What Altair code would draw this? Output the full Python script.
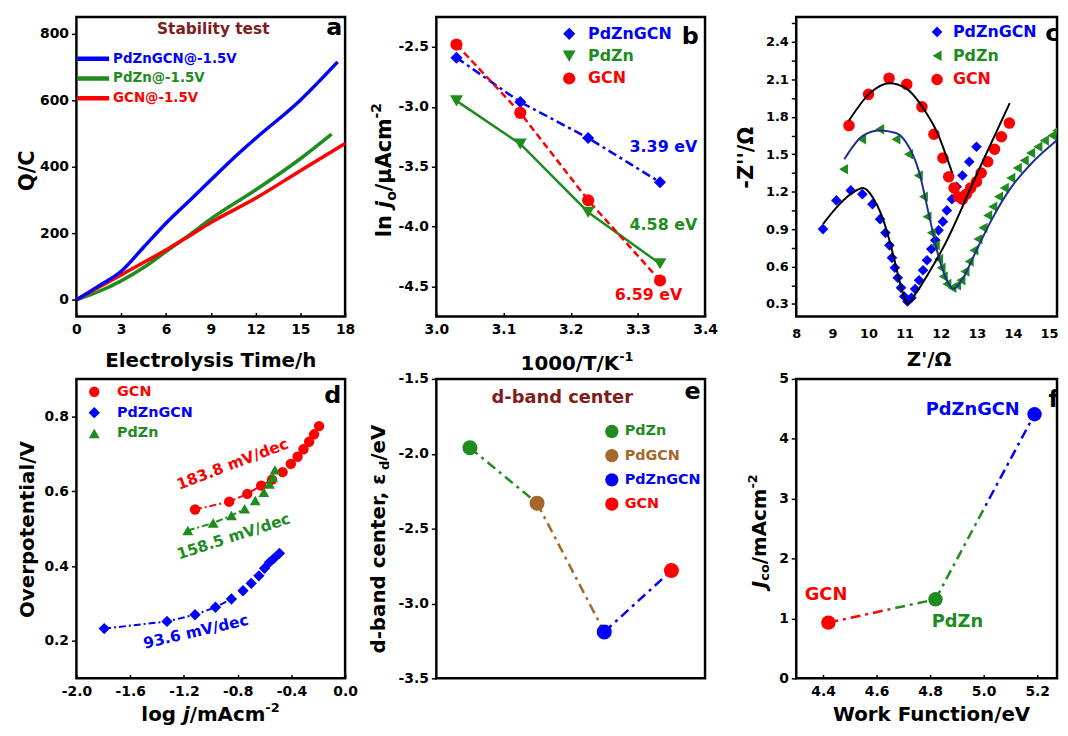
import altair as alt
import pandas as pd

FONT = "DejaVu Sans"
BLUE, GREEN, RED = "#0000ff", "#1e8c1e", "#ff0000"
BROWN, DARKRED, NAVY, BLACK = "#a4682a", "#7f1d1d", "#1f2f8f", "#000000"
DASHDOT = [9, 4, 3, 4]
DASHDOT_S = [7, 3, 2, 3]
DASHDOT_L = [10, 5, 3, 5]
W, H, WR = 271, 302, 263
MINUS = "replace(datum.label, '\u2212', '-')"

# ---------------- data ----------------
# (a) stability test
a_names = ["PdZnGCN@-1.5V", "PdZn@-1.5V", "GCN@-1.5V"]
a_t_pdzngcn = [0, 1.5, 3, 4.5, 6, 7.5, 9, 10.5, 12, 15, 17.5]
a_q_pdzngcn = [0, 42, 86, 158, 230, 295, 360, 425, 485, 600, 715]
a_t_pdzn = [0, 1.5, 3, 4.5, 6, 7.5, 9, 12, 15, 17.1]
a_q_pdzn = [0, 25, 57, 97, 145, 193, 243, 330, 424, 498]
a_t_gcn = [0, 1.5, 3, 4.5, 6, 7.5, 9, 12, 15, 18]
a_q_gcn = [0, 38, 75, 112, 150, 190, 232, 305, 388, 470]

# (b) Arrhenius
b_names = ["PdZnGCN", "PdZn", "GCN"]
b_x = [3.030, 3.125, 3.226, 3.333]
b_pdzngcn = [-2.59, -2.96, -3.26, -3.63]
b_pdzn = [-2.95, -3.31, -3.88, -4.31]
b_gcn = [-2.48, -3.05, -3.78, -4.45]
b_ea = ["3.39 eV", "4.58 eV", "6.59 eV"]

# (c) Nyquist
c_names = ["PdZnGCN", "PdZn", "GCN"]
c_pdzngcn_x = [8.74, 9.11, 9.51, 9.83, 10.11, 10.32, 10.47, 10.58, 10.65, 10.73, 10.81, 10.90, 10.99, 11.08, 11.19,
               11.29, 11.40, 11.51, 11.62, 11.74, 11.85, 11.94, 12.06, 12.17, 12.31, 12.44, 12.60, 12.79, 12.99]
c_pdzngcn_y = [0.90, 1.13, 1.21, 1.18, 1.10, 0.98, 0.87, 0.77, 0.67, 0.59, 0.51, 0.43, 0.36, 0.32, 0.35,
               0.42, 0.49, 0.57, 0.65, 0.74, 0.81, 0.89, 0.96, 1.05, 1.14, 1.24, 1.33, 1.44, 1.56]
c_pdzn_x = [9.31, 9.81, 10.31, 10.76, 11.11, 11.38, 11.52, 11.62, 11.74, 11.85, 11.94, 12.01, 12.07, 12.17, 12.31,
            12.44, 12.56, 12.67, 12.79, 12.92, 13.03, 13.17, 13.30, 13.44, 13.60, 13.76, 13.94, 14.12, 14.31, 14.49,
            14.69, 14.87, 15.08, 15.21]
c_pdzn_y = [1.38, 1.62, 1.70, 1.62, 1.50, 1.33, 1.16, 1.00, 0.87, 0.77, 0.66, 0.59, 0.52, 0.46, 0.43,
            0.45, 0.49, 0.56, 0.64, 0.73, 0.82, 0.91, 1.01, 1.08, 1.16, 1.23, 1.31, 1.39, 1.45, 1.51,
            1.56, 1.61, 1.65, 1.69]
c_gcn_x = [9.46, 10.00, 10.57, 11.06, 11.48, 11.81, 12.06, 12.22, 12.37, 12.49, 12.60, 12.71, 12.83, 12.99, 13.12,
           13.30, 13.49, 13.68, 13.90]
c_gcn_y = [1.73, 1.98, 2.11, 2.06, 1.88, 1.66, 1.47, 1.32, 1.23, 1.16, 1.14, 1.18, 1.23, 1.28, 1.35,
           1.44, 1.54, 1.64, 1.75]
c_fit_pdzngcn_x = [8.74, 9.20, 9.55, 9.85, 10.13, 10.35, 10.58, 10.72, 10.90, 11.08, 11.30, 11.67, 12.12, 13.03, 13.91]
c_fit_pdzngcn_y = [0.94, 1.10, 1.19, 1.23, 1.15, 1.02, 0.81, 0.65, 0.44, 0.30, 0.38, 0.55, 0.78, 1.36, 1.91]
c_fit_pdzn_x = [9.33, 9.85, 10.31, 10.76, 11.03, 11.40, 11.67, 11.94, 12.17, 12.35, 12.58, 12.94, 13.40, 13.94, 14.49, 15.21]
c_fit_pdzn_y = [1.46, 1.65, 1.69, 1.67, 1.60, 1.36, 1.02, 0.68, 0.49, 0.42, 0.49, 0.70, 0.97, 1.23, 1.42, 1.61]
c_fit_gcn_x = [9.46, 10.04, 10.58, 11.03, 11.58, 11.94, 12.21, 12.32]
c_fit_gcn_y = [1.77, 1.99, 2.07, 2.03, 1.84, 1.65, 1.44, 1.35]

# (d) Tafel
d_names = ["GCN", "PdZnGCN", "PdZn"]
d_gcn_x = [-1.117, -0.863, -0.728, -0.625, -0.544, -0.465, -0.404, -0.354, -0.310, -0.268, -0.231, -0.194]
d_gcn_y = [0.551, 0.572, 0.593, 0.615, 0.631, 0.651, 0.673, 0.692, 0.712, 0.732, 0.752, 0.774]
d_pdzngcn_x = [-1.793, -1.326, -1.117, -0.965, -0.846, -0.760, -0.699, -0.642, -0.600, -0.563, -0.531, -0.489]
d_pdzngcn_y = [0.233, 0.252, 0.270, 0.290, 0.312, 0.334, 0.354, 0.374, 0.394, 0.410, 0.420, 0.434]
d_pdzn_x = [-1.171, -0.982, -0.846, -0.748, -0.669, -0.605, -0.563, -0.539, -0.522]
d_pdzn_y = [0.495, 0.515, 0.535, 0.553, 0.575, 0.597, 0.619, 0.637, 0.657]
d_slopes = ["183.8 mV/dec", "93.6 mV/dec", "158.5 mV/dec"]

# (e) d-band center
e_names = ["PdZn", "PdGCN", "PdZnGCN", "GCN"]
e_values = [-1.96, -2.33, -3.19, -2.78]
e_colors = [GREEN, BROWN, BLUE, RED]

# (f) work function
f_names = ["GCN", "PdZn", "PdZnGCN"]
f_wf = [4.42, 4.82, 5.19]
f_jco = [0.93, 1.32, 4.41]
f_colors = [RED, GREEN, BLUE]

# ---------------- helpers ----------------
ONE = pd.DataFrame({"k": [0]})
ADV = {" ": .348, "-": .415, "/": .365, ".": .38, ",": .38, "A": .774, "C": .734, "J": .372, "K": .775,
       "T": .682, "V": .774, "a": .675, "b": .716, "c": .593, "d": .716, "e": .678, "g": .716, "j": .343,
       "l": .343, "m": 1.042, "n": .712, "o": .687, "r": .493, "t": .478, "\u03b5": .6, "\u03bc": .72}


def adv(s):
    return sum(ADV.get(ch, .696) for ch in s)


def label(s, x, y, size, color=BLACK, angle=None, align="center", baseline="middle", italic=False, clip=False):
    kw = dict(text=s, font=FONT, fontWeight="bold", fontSize=size, color=color, align=align, baseline=baseline)
    if angle is not None:
        kw["angle"] = angle
    if italic:
        kw["fontStyle"] = "italic"
    if clip:
        kw["clip"] = True
    return alt.Chart(ONE).mark_text(**kw).encode(x=alt.value(x), y=alt.value(y))


def composed(parts, x, y, vertical=False):
    out, pos = [], (y if vertical else x)
    for s, size, shift, italic in parts:
        if vertical:
            out.append(label(s, x + shift, pos, size, angle=270, align="left", baseline="alphabetic", italic=italic))
            pos -= adv(s) * size
        else:
            out.append(label(s, pos, y + shift, size, align="left", baseline="alphabetic", italic=italic))
            pos += adv(s) * size
    return out


def marker(shape, color, x, y, size):
    return alt.Chart(ONE).mark_point(shape=shape, filled=True, size=size, color=color, opacity=1).encode(
        x=alt.value(x), y=alt.value(y))


def lline(color, x1, x2, y, width):
    return alt.Chart(ONE).mark_rule(color=color, strokeWidth=width).encode(
        x=alt.value(x1), x2=alt.value(x2), y=alt.value(y))


def y_axis(values, fmt, size=14, expr=None):
    kw = dict(values=values, format=fmt, title=None, domain=False, grid=False, tickSize=5, tickWidth=1.5,
              tickColor=BLACK, labelFont=FONT, labelFontWeight="bold", labelFontSize=size, labelColor=BLACK,
              labelPadding=3, labelOverlap=False)
    if expr:
        kw["labelExpr"] = expr
    return alt.Axis(**kw)


def x_axis(values, fmt, size=14, pad=6, expr=None, tick_opacity=None):
    kw = dict(values=values, format=fmt, title=None, domain=False, grid=False, offset=-4, tickSize=4,
              tickWidth=1.5, tickColor=BLACK, labelFont=FONT, labelFontWeight="bold", labelFontSize=size,
              labelColor=BLACK, labelPadding=pad, labelOverlap=False, labelFlush=False)
    if expr:
        kw["labelExpr"] = expr
    if tick_opacity is not None:
        kw["tickOpacity"] = tick_opacity
    return alt.Axis(**kw)


def df(xs, ys):
    return pd.DataFrame({"x": xs, "y": ys})


# ---------------- panel a ----------------
xa = alt.X("x:Q", scale=alt.Scale(domain=[0, 18], nice=False, zero=False), axis=x_axis(list(range(0, 19, 3)), "d"))
ya = alt.Y("y:Q", scale=alt.Scale(domain=[-50, 850], nice=False, zero=False),
           axis=y_axis([0, 200, 400, 600, 800], "d"))
a_layers = []
for xs, ys, col in [(a_t_pdzn, a_q_pdzn, GREEN), (a_t_gcn, a_q_gcn, RED), (a_t_pdzngcn, a_q_pdzngcn, BLUE)]:
    a_layers.append(alt.Chart(df(xs, ys)).mark_line(color=col, strokeWidth=3.5, interpolate="monotone",
                                                     clip=True).encode(x=xa, y=ya))
for i, (nm, col) in enumerate(zip(a_names, [BLUE, GREEN, RED])):
    a_layers.append(lline(col, 1, 33, 42 + 20 * i, 4.5))
    a_layers.append(label(nm, 37, 42 + 20 * i, 13.5, col, align="left"))
a_layers += [label("Stability test", 138, 12, 15.5, DARKRED), label("a", 260, 11, 24),
             label("Q/C", -49, 155, 21, angle=270),
             label("Electrolysis Time/h", 135.5, 353, 20, baseline="alphabetic")]
panel_a = alt.layer(*a_layers).properties(width=W, height=H)

# ---------------- panel b ----------------
xb = alt.X("x:Q", scale=alt.Scale(domain=[3.0, 3.4], nice=False, zero=False),
           axis=x_axis([3.0, 3.1, 3.2, 3.3, 3.4], ".1f"))
yb = alt.Y("y:Q", scale=alt.Scale(domain=[-4.75, -2.25], nice=False, zero=False),
           axis=y_axis([-2.5, -3.0, -3.5, -4.0, -4.5], ".1f", expr=MINUS))
b_spec = [(b_pdzngcn, BLUE, "diamond", DASHDOT, 150), (b_pdzn, GREEN, "triangle-down", None, 170),
          (b_gcn, RED, "circle", [7, 4], 150)]
b_layers = []
for ys, col, shp, dash, sz in b_spec:
    kw = dict(color=col, strokeWidth=2.5)
    if dash:
        kw["strokeDash"] = dash
    b_layers.append(alt.Chart(df(b_x, ys)).mark_line(**kw).encode(x=xb, y=yb))
for ys, col, shp, dash, sz in b_spec:
    b_layers.append(alt.Chart(df(b_x, ys)).mark_point(shape=shp, filled=True, size=sz, color=col, opacity=1)
                    .encode(x=xb, y=yb))
for i, (nm, (ys, col, shp, dash, sz)) in enumerate(zip(b_names, b_spec)):
    b_layers.append(marker(shp, col, 134, 17 + 22.5 * i, sz))
    b_layers.append(label(nm, 153, 17 + 22.5 * i, 16, col, align="left"))
b_layers += [label(b_ea[0], 229, 131, 16, BLUE), label(b_ea[1], 229, 210, 16, GREEN),
             label(b_ea[2], 214, 280, 16, RED), label("b", 256, 20, 24)]
b_layers += composed([("ln ", 21, 0, False), ("j", 21, 0, True), ("o", 14, 5, False),
                      ("/\u03bcAcm", 21, 0, False), ("-2", 14, -10, False)], -46, 222, vertical=True)
b_layers += composed([("1000/T/K", 20, 0, False), ("-1", 13, -9, False)], 85, 356)
panel_b = alt.layer(*b_layers).properties(width=W, height=H)

# ---------------- panel c ----------------
c_xvals = [8, 8.5, 9, 9.5, 10, 10.5, 11, 11.5, 12, 12.5, 13, 13.5, 14, 14.5, 15]
c_yvals = [0.3, 0.45, 0.6, 0.75, 0.9, 1.05, 1.2, 1.35, 1.5, 1.65, 1.8, 1.95, 2.1, 2.25, 2.4, 2.55]
xc = alt.X("x:Q", scale=alt.Scale(domain=[8, 15.22], nice=False, zero=False),
           axis=x_axis(c_xvals, "d", size=13, pad=11,
                       expr="datum.value % 1 === 0 ? format(datum.value, 'd') : ''",
                       tick_opacity={"condition": {"test": "datum.value % 1 !== 0", "value": 1}, "value": 0}))
yc = alt.Y("y:Q", scale=alt.Scale(domain=[0.2, 2.6], nice=False, zero=False),
           axis=y_axis(c_yvals, ".1f", size=13,
                       expr="round(datum.value / 0.15) % 2 === 0 ? format(datum.value, '.1f') : ''"))
c_layers = []
for xs, ys, col, shp, sz in [(c_pdzngcn_x, c_pdzngcn_y, BLUE, "diamond", 115),
                             (c_pdzn_x, c_pdzn_y, GREEN, "triangle-left", 110),
                             (c_gcn_x, c_gcn_y, RED, "circle", 135)]:
    c_layers.append(alt.Chart(df(xs, ys)).mark_point(shape=shp, filled=True, size=sz, color=col, opacity=1,
                                                      clip=True).encode(x=xc, y=yc))
for xs, ys, col in [(c_fit_pdzngcn_x, c_fit_pdzngcn_y, BLACK), (c_fit_pdzn_x, c_fit_pdzn_y, NAVY),
                    (c_fit_gcn_x, c_fit_gcn_y, BLACK)]:
    c_layers.append(alt.Chart(df(xs, ys)).mark_line(color=col, strokeWidth=2, interpolate="monotone",
                                                     clip=True).encode(x=xc, y=yc))
for i, (nm, col, shp, sz) in enumerate(zip(c_names, [BLUE, GREEN, RED], ["diamond", "triangle-left", "circle"],
                                           [115, 110, 135])):
    c_layers.append(marker(shp, col, 142, 15 + 24 * i, sz))
    c_layers.append(label(nm, 158, 15 + 24 * i, 16, col, align="left"))
c_layers += [label("c", 251, 17, 24, align="left", clip=True),
             label("-Z''/\u03a9", -50, 142, 21, angle=270),
             label("Z'/\u03a9", 134, 352, 20, baseline="alphabetic")]
panel_c = alt.layer(*c_layers).properties(width=WR, height=H)

# ---------------- panel d ----------------
xd = alt.X("x:Q", scale=alt.Scale(domain=[-2, 0], nice=False, zero=False),
           axis=x_axis([-2.0, -1.6, -1.2, -0.8, -0.4, 0.0], ".1f", expr=MINUS))
yd = alt.Y("y:Q", scale=alt.Scale(domain=[0.1, 0.9], nice=False, zero=False),
           axis=y_axis([0.2, 0.4, 0.6, 0.8], ".1f"))
d_spec = [(d_gcn_x, d_gcn_y, RED, "circle", 110, 5), (d_pdzn_x, d_pdzn_y, GREEN, "triangle-up", 120, 4),
          (d_pdzngcn_x, d_pdzngcn_y, BLUE, "diamond", 130, 5)]
d_layers = []
for xs, ys, col, shp, sz, nfit in d_spec:
    d_layers.append(alt.Chart(df(xs[:nfit], ys[:nfit])).mark_line(color=col, strokeWidth=2, strokeDash=DASHDOT_S)
                    .encode(x=xd, y=yd))
for xs, ys, col, shp, sz, nfit in d_spec:
    d_layers.append(alt.Chart(df(xs, ys)).mark_point(shape=shp, filled=True, size=sz, color=col, opacity=1)
                    .encode(x=xd, y=yd))
for i, (nm, col, shp, sz) in enumerate(zip(d_names, [RED, BLUE, GREEN], ["circle", "diamond", "triangle-up"],
                                           [110, 130, 120])):
    d_layers.append(marker(shp, col, 18, 13 + 21 * i, sz))
    d_layers.append(label(nm, 41, 13 + 21 * i, 14.5, col, align="left"))
d_layers += [label(d_slopes[0], 157.5, 86, 15.5, RED, angle=339),
             label(d_slopes[2], 158.5, 159, 15.5, GREEN, angle=342),
             label(d_slopes[1], 120.5, 255, 15.5, BLUE, angle=347),
             label("d", 258.5, 17, 24),
             label("Overpotential/V", -49, 152, 20, angle=270)]
d_layers += composed([("log ", 20, 0, False), ("j", 20, 0, True), ("/mAcm", 20, 0, False), ("-2", 13, -9, False)],
                     65.5, 345)
panel_d = alt.layer(*d_layers).properties(width=W, height=H)

# ---------------- panel e ----------------
xe = alt.X("name:N", sort=e_names, scale=alt.Scale(type="point", domain=e_names, padding=0.5), axis=None)
ye = alt.Y("v:Q", scale=alt.Scale(domain=[-3.5, -1.5], nice=False, zero=False),
           axis=y_axis([-1.5, -2.0, -2.5, -3.0, -3.5], ".1f", expr=MINUS))
e_pts = pd.DataFrame({"name": e_names, "v": e_values})
seg_rows = []
for i in range(len(e_names) - 1):
    seg_rows.append({"name": e_names[i], "v": e_values[i], "seg": e_names[i]})
    seg_rows.append({"name": e_names[i + 1], "v": e_values[i + 1], "seg": e_names[i]})
e_seg = pd.DataFrame(seg_rows)
e_cscale = alt.Scale(domain=e_names, range=e_colors)
e_layers = [
    alt.Chart(e_seg).mark_line(strokeWidth=2.5, strokeDash=DASHDOT_L).encode(
        x=xe, y=ye, color=alt.Color("seg:N", scale=e_cscale, legend=None)),
    alt.Chart(e_pts).mark_point(shape="circle", filled=True, size=230, opacity=1).encode(
        x=xe, y=ye, color=alt.Color("name:N", scale=e_cscale, legend=None)),
]
for i, (nm, col) in enumerate(zip(e_names, e_colors)):
    e_layers.append(marker("circle", col, 177, 53 + 24.4 * i, 180))
    e_layers.append(label(nm, 190, 53 + 24.4 * i, 14.5, col, align="left"))
e_layers += [label("d-band center", 127, 19, 18, DARKRED), label("e", 258.5, 13, 24)]
e_layers += composed([("d-band center, \u03b5", 20, 0, False), ("d", 13, 4, False), ("/eV", 20, 0, False)],
                     -52, 277, vertical=True)
panel_e = alt.layer(*e_layers).properties(width=W, height=H)

# ---------------- panel f ----------------
xf = alt.X("x:Q", scale=alt.Scale(domain=[4.3, 5.274], nice=False, zero=False),
           axis=x_axis([4.4, 4.6, 4.8, 5.0, 5.2], ".1f"))
yf = alt.Y("y:Q", scale=alt.Scale(domain=[0, 5], nice=False, zero=False),
           axis=y_axis([0, 1, 2, 3, 4, 5], "d"))
f_layers = []
for i, frac in [(0, 0.57), (1, 0.5)]:
    grad = alt.LinearGradient(gradient="linear", x1=0, x2=1, y1=0, y2=0, stops=[
        alt.GradientStop(color=f_colors[i], offset=0), alt.GradientStop(color=f_colors[i], offset=frac),
        alt.GradientStop(color=f_colors[i + 1], offset=frac), alt.GradientStop(color=f_colors[i + 1], offset=1)])
    f_layers.append(alt.Chart(df(f_wf[i:i + 2], f_jco[i:i + 2])).mark_line(
        stroke=grad, strokeWidth=2.5, strokeDash=DASHDOT_L).encode(x=xf, y=yf))
f_pts = pd.DataFrame({"x": f_wf, "y": f_jco, "name": f_names})
f_layers.append(alt.Chart(f_pts).mark_point(shape="circle", filled=True, size=210, opacity=1).encode(
    x=xf, y=yf, color=alt.Color("name:N", scale=alt.Scale(domain=f_names, range=f_colors), legend=None)))
f_layers += [label(f_names[2], 178, 31, 18, BLUE), label(f_names[0], 30, 218, 18, RED),
             label(f_names[1], 162.5, 245, 18, GREEN), label("f", 254.5, 21, 24, align="left", clip=True),
             label("Work Function/eV", 136.5, 345, 20, baseline="alphabetic")]
f_layers += composed([("J", 20, 0, True), ("co", 13, 4, False), ("/mAcm", 20, 0, False), ("-2", 13, -9, False)],
                     -31, 211, vertical=True)
panel_f = alt.layer(*f_layers).properties(width=WR, height=H)

chart = alt.concat(panel_a, panel_b, panel_c, panel_d, panel_e, panel_f, columns=3,
                   spacing={"row": 63, "column": 92}, bounds="flush").properties(
    padding={"left": 7, "top": 3, "right": 0, "bottom": 0}
).configure(font=FONT).configure_view(stroke=BLACK, strokeWidth=2.5)

chart.save("out.html", embed_options={"renderer": "svg", "actions": False})
